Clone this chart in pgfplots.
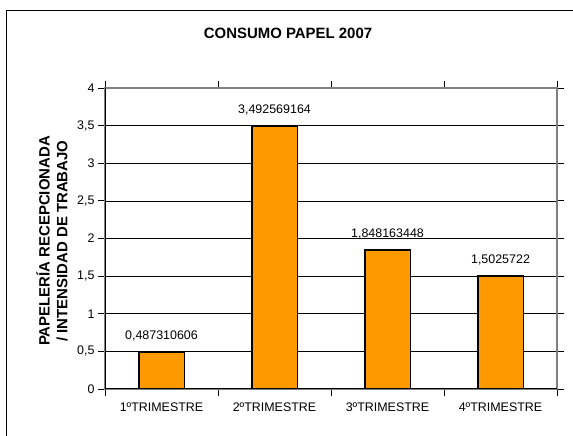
\documentclass[border=0pt]{standalone}
\usepackage{pgfplots}
\pgfplotsset{compat=1.18}
\usepackage{fontspec}
\setmainfont{Liberation Sans}
\definecolor{barorange}{HTML}{FF9900}

\begin{document}
\begin{tikzpicture}[x=1bp,y=1bp]
\useasboundingbox (0,0) rectangle (573,436);
% chart frame, cut off at right and bottom as in the original
\draw[black, line width=0.8bp] (6,-20) rectangle (600,426);
\node[font=\fontsize{15}{18}\selectfont\bfseries] at (288,403) {CONSUMO PAPEL 2007};
\node[rotate=90, align=center, font=\fontsize{15}{18}\selectfont\bfseries] at (52,195)
  {PAPELERÍA RECEPCIONADA\\/ INTENSIDAD DE TRABAJO};

\begin{axis}[
    at={(105bp,47bp)}, anchor=south west,
    width=452bp, height=301bp, scale only axis,
    ybar, bar width=0.4,
    xmin=0.5, xmax=4.5, ymin=0, ymax=4,
    xtick={1,2,3,4},
    xticklabels={1ºTRIMESTRE,2ºTRIMESTRE,3ºTRIMESTRE,4ºTRIMESTRE},
    major x tick style={draw=none},
    minor xtick={0.5,1.5,2.5,3.5,4.5},
    ytick distance=0.5,
    tick align=outside,
    major tick length=7bp, minor tick length=7bp,
    tick style={black, line width=0.8bp},
    ymajorgrids, grid style={black, line width=0.6bp},
    axis line style={draw=gray, line width=1.2bp},
    ticklabel style={font=\fontsize{12.5}{15}\selectfont},
    xticklabel style={yshift=-3bp},
    /pgf/number format/use comma,
    /pgf/number format/assume math mode=true,
    point meta=explicit symbolic,
    nodes near coords,
    every node near coord/.append style={font=\fontsize{12.5}{15}\selectfont, yshift=7bp},
  ]
\addplot[fill=barorange, draw=black, line width=1.2bp] coordinates {
  (1,0.487310606) [0,487310606]
  (2,3.492569164) [3,492569164]
  (3,1.848163448) [1,848163448]
  (4,1.5025722)   [1,5025722]
};
\draw[black, line width=1.2bp] (rel axis cs:0,1) -- (rel axis cs:0,0) -- (rel axis cs:1,0);
\end{axis}
\end{tikzpicture}
\end{document}
